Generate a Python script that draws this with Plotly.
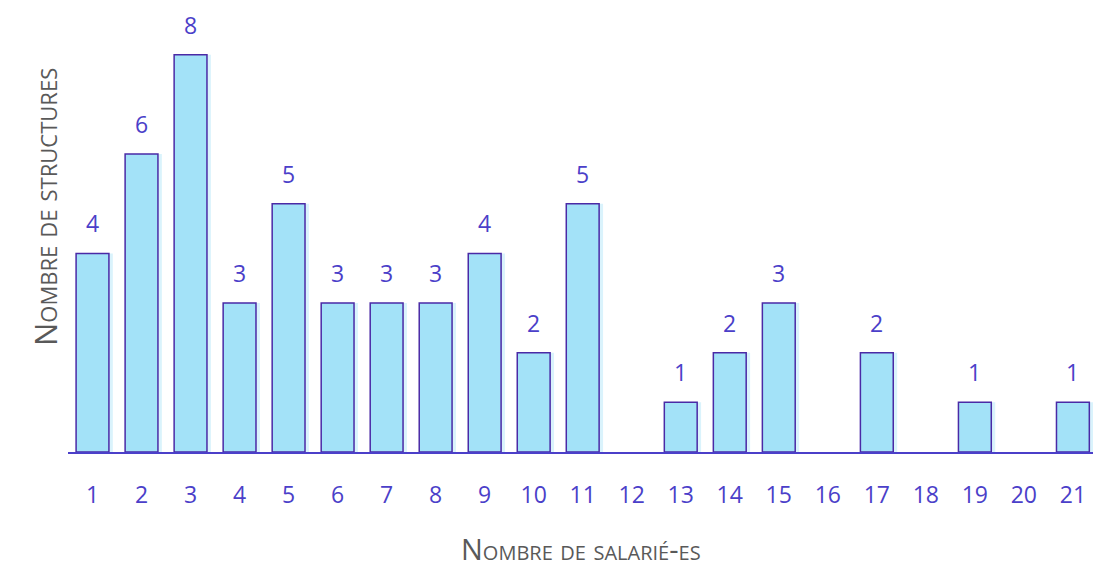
import plotly.graph_objects as go

categories = [str(i) for i in range(1, 22)]
values = [4, 6, 8, 3, 5, 3, 3, 3, 4, 2, 5, 0, 1, 2, 3, 0, 2, 0, 1, 0, 1]
x_title = "Nombre de salarié-es"
y_title = "Nombre de structures"

fill_color = "#A3E2F8"
edge_color = "#4A2AA6"
text_color = "#4B3FC9"
title_color = "#595959"
font_family = "Open Sans"

bar_values = [v if v > 0 else None for v in values]

fig = go.Figure()
# soft shadow behind bars
fig.add_trace(go.Bar(
    x=categories, y=bar_values,
    marker=dict(color="rgba(163,226,248,0.4)", line=dict(width=0)),
    width=0.67, offset=-0.335 + 0.08,
    hoverinfo="skip",
))
fig.add_trace(go.Bar(
    x=categories, y=bar_values,
    marker=dict(color=fill_color, line=dict(color=edge_color, width=1.5)),
    width=0.67, offset=-0.335,
    hoverinfo="skip",
))

for i, v in enumerate(values):
    if v > 0:
        fig.add_annotation(x=i, y=v, text=str(v), showarrow=False, yshift=30,
                           font=dict(family=font_family, size=23, color=text_color))

fig.add_annotation(xref="paper", yref="paper", x=0.5, y=0, yanchor="middle", yshift=-96,
                   text=x_title, showarrow=False,
                   font=dict(family=font_family, size=29, color=title_color, variant="small-caps"))
fig.add_annotation(xref="paper", yref="paper", x=0, xshift=-46, y=0.5, yshift=34,
                   text=y_title, showarrow=False, textangle=-90,
                   font=dict(family=font_family, size=31, color=title_color, variant="small-caps"))

fig.update_layout(
    width=1093, height=570,
    margin=dict(l=68, r=0, t=30, b=118),
    plot_bgcolor="white", paper_bgcolor="white",
    showlegend=False, barmode="overlay",
    xaxis=dict(
        type="category", range=[-0.5, 20.41],
        showline=True, linecolor=text_color, linewidth=2,
        showgrid=False, ticks="",
        tickfont=dict(family=font_family, size=23, color=text_color),
        ticklabelstandoff=21,
    ),
    yaxis=dict(range=[0, 8.5], showgrid=False, showticklabels=False,
               zeroline=False, showline=False),
)

fig.write_html(
    "out.html",
    config={"displayModeBar": False},
    post_script="document.body.style.margin='0px';document.body.style.overflow='hidden';",
)
